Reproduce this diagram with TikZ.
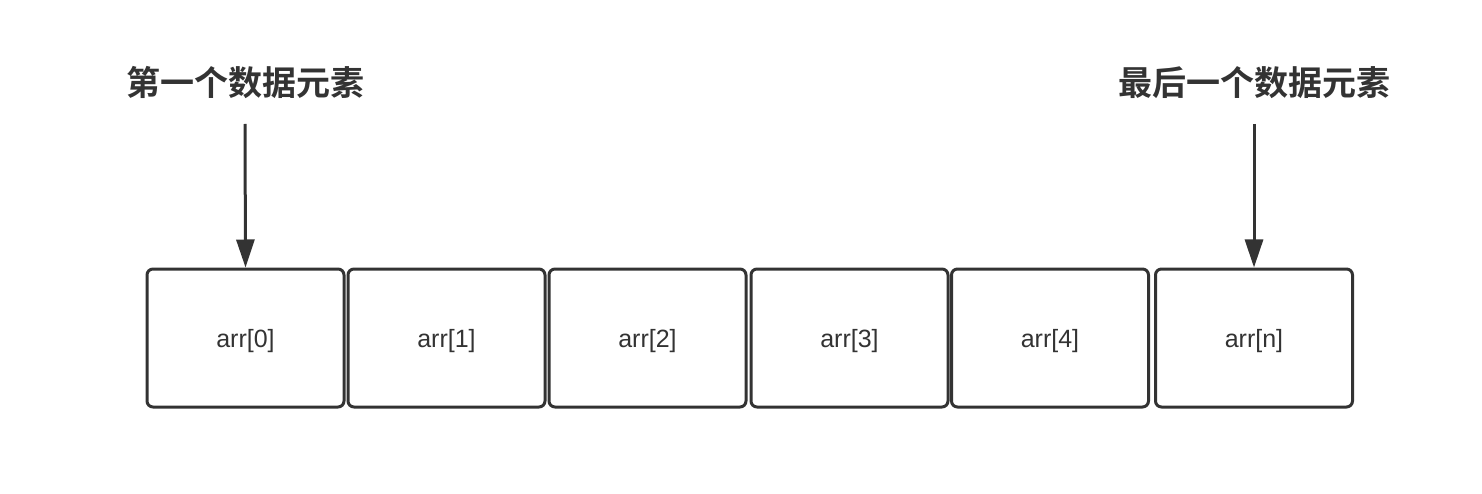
\documentclass[tikz,border=0pt]{standalone}
\usepackage{fontspec}
\setmainfont{Liberation Sans}
\newfontfamily\cjk{Noto Sans CJK SC Bold}
\usetikzlibrary{arrows.meta}
\definecolor{ink}{HTML}{333333}
\begin{document}
\begin{tikzpicture}[x=1pt,y=-1pt,
  cell/.style={draw=ink,line width=3pt,rounded corners=6pt,minimum width=197pt,minimum height=138pt,inner sep=0pt,text=ink,font=\fontsize{25}{30}\selectfont},
  lbl/.style={text=ink,font=\fontsize{25}{30}\selectfont,inner sep=0pt},
  title/.style={text=ink,font=\cjk\fontsize{34}{40}\selectfont,inner sep=0pt},
  pointer/.style={draw=ink,line width=3pt,-{Triangle[length=28pt,width=18pt]}}]
\useasboundingbox (0,0) rectangle (1482,494);
\node[cell] (c0) at (245.5,338) {};
\node[cell] (c1) at (446.5,338) {};
\node[cell] (c2) at (647.5,338) {};
\node[cell] (c3) at (849.5,338) {};
\node[cell] (c4) at (1050,338) {};
\node[cell] (c5) at (1254,338) {};
\node[lbl,yshift=-3pt] (l0) at (c0) {arr[0]};
\node[lbl,yshift=-3pt] (l1) at (c1) {arr[1]};
\node[lbl,yshift=-3pt] (l2) at (c2) {arr[2]};
\node[lbl,yshift=-3pt] (l3) at (c3) {arr[3]};
\node[lbl,yshift=-3pt] (l4) at (c4) {arr[4]};
\node[lbl,yshift=-3pt] (l5) at (c5) {arr[n]};
\node[title] (t0) at (245.5,83) {第一个数据元素};
\node[title] (t1) at (1254,83) {最后一个数据元素};
\coordinate (s0) at (245,124);
\coordinate (s1) at (1254,124);
\draw[pointer] (s0) -- (c0.north);
\draw[pointer] (s1) -- (c5.north);
\end{tikzpicture}
\end{document}
